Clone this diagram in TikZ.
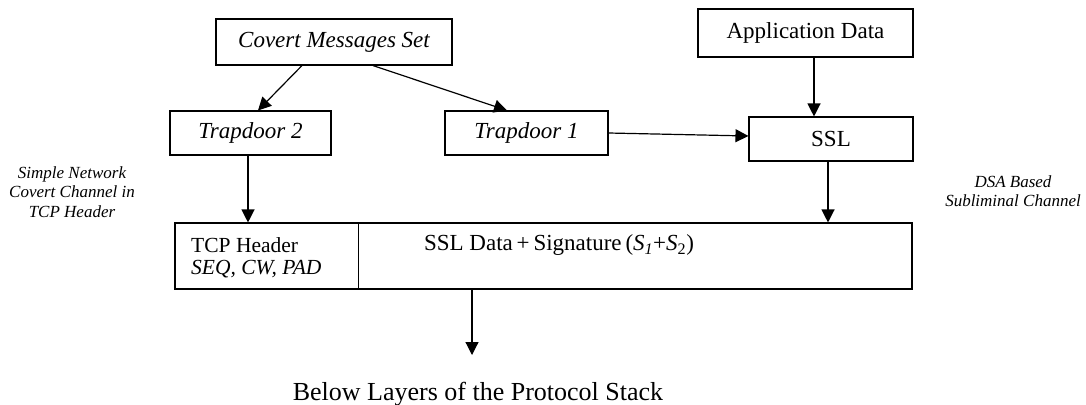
\documentclass[tikz,border=0pt]{standalone}
\usepackage{fontspec}
\setmainfont{Liberation Serif}
\usetikzlibrary{arrows.meta,calc}
\begin{document}
\begin{tikzpicture}[x=1pt,y=-1pt,
  box/.style={draw,line width=1.1pt,rectangle,inner sep=0pt,align=center,font=\fontsize{23}{27}\selectfont},
  arr/.style={line width=1.2pt,-{Triangle[length=13pt,width=13pt]}},
  side/.style={align=center,font=\fontsize{17}{19.5}\selectfont\itshape},
  plain/.style={inner sep=0pt}]
\useasboundingbox (0,0) rectangle (1086,404);

\node[box,minimum width=236pt,minimum height=46pt] (cms) at (334,42) {\itshape Covert Messages Set};
\node[box,minimum width=161pt,minimum height=44pt] (t2) at (250.5,133) {\itshape Trapdoor 2};
\node[box,minimum width=163pt,minimum height=44pt] (t1) at (526.5,133) {\itshape Trapdoor 1};
\node[box,minimum width=215pt,minimum height=48pt] (app) at (805.5,33) {Application Data};
\node[box,minimum width=164pt,minimum height=44pt] (ssl) at (831,139) {SSL};
\node[box,minimum width=737pt,minimum height=66pt] (big) at (543.5,256) {};

\draw[line width=1.1pt] ($(big.north west)+(184,0)$) coordinate (dtop) -- ($(big.south west)+(184,0)$) coordinate (dbot);

\node[plain,anchor=west,font=\fontsize{21.5}{24}\selectfont] (tcp) at (191,245) {TCP Header};
\node[plain,anchor=west,font=\fontsize{21.5}{24}\selectfont\itshape] (seq) at (191,269) {SEQ, CW, PAD};
\node[plain,font=\fontsize{23}{27}\selectfont] (data) at (559,245) {SSL Data\,+\,Signature\,(\textit{S}\textsubscript{\textit{1}}+\textit{S}\textsubscript{2})};

\node[plain,anchor=base,font=\fontsize{26}{30}\selectfont] (below) at (478,400) {Below Layers of the Protocol Stack};
\coordinate (belowtip) at (472,355);

\node[side] (lside) at (72,192) {Simple Network\\Covert Channel in\\TCP Header};
\node[side] (rside) at (1013,191) {DSA Based\\Subliminal Channel};

\draw[arr] ($(cms.south)+(-32,0)$) -- ($(t2.north)+(7.5,0)$);
\draw[arr] ($(cms.south)+(39,0)$) -- ($(t1.north)+(-19.5,0)$);
\draw[arr] (t1.east) -- ($(ssl.west)+(0,-3)$);
\draw[arr] ($(app.south)+(8.5,0)$) -- ($(ssl.north)+(-17,0)$);
\draw[arr] ($(t2.south)+(-2.5,0)$) -- ($(big.north -| t2.south)+(-2.5,0)$);
\draw[arr] ($(ssl.south)+(-3,0)$) -- ($(big.north -| ssl.south)+(-3,0)$);
\draw[arr] (big.south -| belowtip) -- (belowtip);
\end{tikzpicture}
\end{document}
